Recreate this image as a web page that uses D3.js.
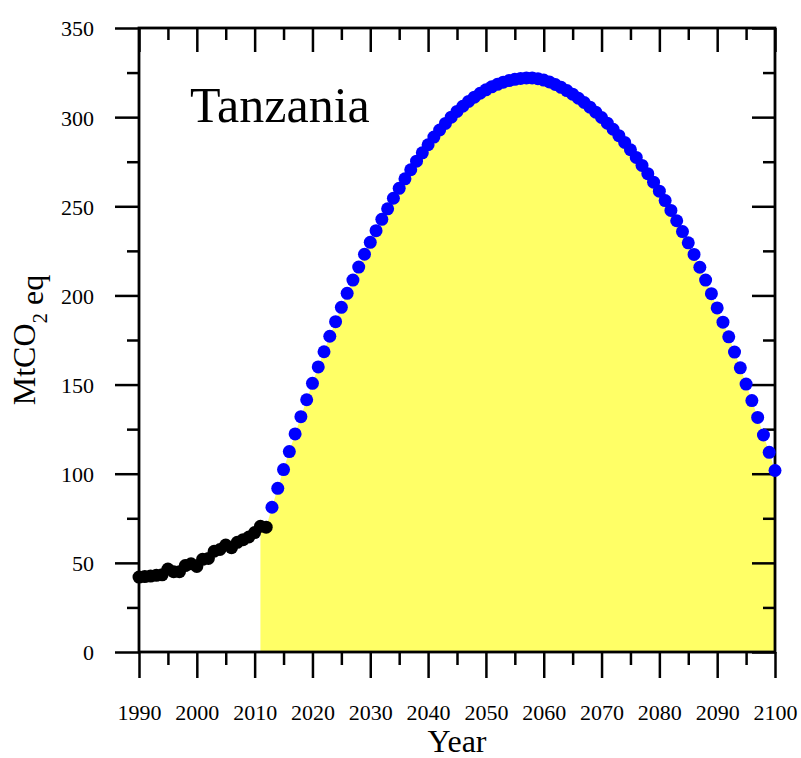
<!DOCTYPE html>
<html>
<head>
<meta charset="utf-8">
<script src="https://cdn.jsdelivr.net/npm/d3@7"></script>
<style>
  body { margin: 0; background: #fff; }
  text { font-family: "Liberation Serif", "Times New Roman", serif; fill: #000; }
</style>
</head>
<body>
<div id="chart"></div>
<script>
// historical emissions (black) and projection (blue), MtCO2 eq
var histStart = 1990;
var histValues = [42, 42.3, 42.6, 43, 43.3, 46.5, 45, 45, 48.5, 49.5,
                  48, 52, 52.5, 56.5, 57.5, 60, 58.5, 61.5, 63, 64.5,
                  67, 70.5, 70];

var projStart = 2013;
var projValues = [81.2, 91.8, 102.3, 112.4, 122.3, 132.0, 141.5,          // 2013-2019
                  150.7, 159.9, 168.4, 177.1, 185.3, 193.3, 201.2, 208.6, 215.9, 223.1,   // 2020s
                  229.8, 236.3, 242.7, 248.6, 254.5, 260.1, 265.4, 270.5, 275.3, 280.0,   // 2030s
                  284.5, 288.8, 292.8, 296.5, 300.0, 303.2, 306.1, 308.8, 311.2, 313.4,   // 2040s
                  315.3, 317.0, 318.4, 319.6, 320.5, 321.2, 321.7, 322.0, 322.0, 321.6,   // 2050s
                  320.8, 319.7, 318.3, 316.7, 314.9, 312.9, 310.6, 308.2, 305.6, 302.8,   // 2060s
                  299.8, 296.6, 293.2, 289.6, 285.8, 281.7, 277.4, 272.9, 268.3, 263.5,   // 2070s
                  258.5, 253.2, 247.7, 241.9, 235.8, 229.5, 223.0, 215.8, 208.6, 201.0,   // 2080s
                  193.0, 185.0, 176.8, 168.2, 159.4, 150.3, 141.0, 131.6, 121.7, 112.0,   // 2090s
                  101.8];                                                  // 2100

var fillStart = 2011;   // shaded area starts here

var xMajor = [1990, 2000, 2010, 2020, 2030, 2040, 2050, 2060, 2070, 2080, 2090, 2100];
var xMinor = [1995, 2005, 2015, 2025, 2035, 2045, 2055, 2065, 2075, 2085, 2095];
var yMajor = [0, 50, 100, 150, 200, 250, 300, 350];
var yMinor = [25, 75, 125, 175, 225, 275, 325];

var country = "Tanzania";

var margin = {top: 28, right: 26, bottom: 106, left: 139},
    width = 801 - margin.left - margin.right,
    height = 758 - margin.top - margin.bottom;

var hist = histValues.map(function(v, i) { return {year: histStart + i, value: v}; });
var proj = projValues.map(function(v, i) { return {year: projStart + i, value: v}; });
var shaded = hist.filter(function(d) { return d.year >= fillStart; }).concat(proj);

var svg = d3.select("#chart").append("svg")
    .attr("width", 801)
    .attr("height", 758);

var g = svg.append("g").attr("transform", "translate(" + margin.left + "," + margin.top + ")");

var x = d3.scaleLinear().domain([1990, 2100]).range([0, width]);
var y = d3.scaleLinear().domain([0, 350]).range([height, 0]);

// yellow area under the projection
g.append("path")
    .datum(shaded)
    .attr("fill", "#ffff66")
    .attr("d", d3.area()
        .x(function(d) { return x(d.year); })
        .y0(height)
        .y1(function(d) { return y(d.value); }));

// axes: major + minor on every side
function styleAxis(sel) {
  sel.selectAll(".domain").remove();
  sel.selectAll(".tick line").attr("stroke", "#000").attr("stroke-width", 2.5);
  sel.selectAll(".tick text").style("font-size", "22px").attr("fill", "#000")
     .style("font-family", '"Liberation Serif", "Times New Roman", serif');
}

g.append("g").attr("transform", "translate(0," + height + ")")
    .call(d3.axisBottom(x).tickValues(xMajor).tickSize(26).tickPadding(42).tickFormat(d3.format("d")))
    .call(styleAxis)
    .selectAll(".tick text").attr("dy", 0).attr("y", 68);
g.append("g").attr("transform", "translate(0," + height + ")")
    .call(d3.axisBottom(x).tickValues(xMinor).tickSize(13).tickFormat(""))
    .call(styleAxis);

g.append("g")
    .call(d3.axisTop(x).tickValues(xMajor).tickSize(-24).tickFormat(""))
    .call(styleAxis);
g.append("g")
    .call(d3.axisTop(x).tickValues(xMinor).tickSize(-12).tickFormat(""))
    .call(styleAxis);

g.append("g")
    .call(d3.axisLeft(y).tickValues(yMajor).tickSize(24).tickPadding(21))
    .call(styleAxis)
    .selectAll(".tick text").attr("dy", "0.36em");
g.append("g")
    .call(d3.axisLeft(y).tickValues(yMinor).tickSize(12).tickFormat(""))
    .call(styleAxis);

g.append("g").attr("transform", "translate(" + width + ",0)")
    .call(d3.axisRight(y).tickValues(yMajor).tickSize(-23).tickFormat(""))
    .call(styleAxis);
g.append("g").attr("transform", "translate(" + width + ",0)")
    .call(d3.axisRight(y).tickValues(yMinor).tickSize(-12).tickFormat(""))
    .call(styleAxis);

// frame
g.append("rect")
    .attr("width", width)
    .attr("height", height)
    .attr("fill", "none")
    .attr("stroke", "#000")
    .attr("stroke-width", 2.8);

// dots
g.append("g").selectAll("circle")
    .data(proj)
    .enter().append("circle")
      .attr("cx", function(d) { return x(d.year); })
      .attr("cy", function(d) { return y(d.value); })
      .attr("r", 6.5)
      .attr("fill", "#0000ff");

g.append("g").selectAll("circle")
    .data(hist)
    .enter().append("circle")
      .attr("cx", function(d) { return x(d.year); })
      .attr("cy", function(d) { return y(d.value); })
      .attr("r", 6.5)
      .attr("fill", "#000");

// country label
g.append("text")
    .attr("x", 190 - margin.left)
    .attr("y", 122 - margin.top)
    .attr("font-size", 50)
    .text(country);

// axis titles
svg.append("text")
    .attr("x", margin.left + width / 2)
    .attr("y", 752)
    .attr("text-anchor", "middle")
    .attr("font-size", 32)
    .text("Year");

var yl = svg.append("text")
    .attr("transform", "translate(35," + (margin.top + height / 2) + ") rotate(-90)")
    .attr("text-anchor", "middle")
    .attr("font-size", 32);
yl.append("tspan").text("MtCO");
yl.append("tspan").attr("dy", 12).attr("font-size", 21).text("2");
yl.append("tspan").attr("dy", -4).text(" eq");
</script>
</body>
</html>
